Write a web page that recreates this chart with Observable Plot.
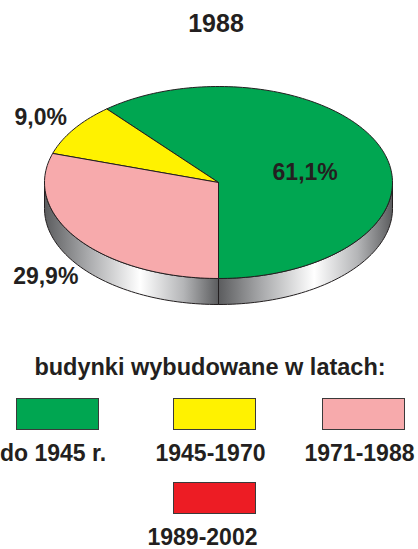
<!DOCTYPE html>
<html><head><meta charset="utf-8">
<script src="https://cdn.jsdelivr.net/npm/d3@7"></script>
<script src="https://cdn.jsdelivr.net/npm/@observablehq/plot@0.6"></script>
<style>
body{margin:0;background:#fff;width:418px;height:549px;position:relative;overflow:hidden;font-family:"Liberation Sans",Arial,Helvetica,sans-serif;font-weight:bold;color:#231f20}
.t{position:absolute;white-space:nowrap;transform:translateX(-50%)}
#chart{position:absolute;left:0;top:45px}
.sw{position:absolute;box-sizing:border-box;border:1px solid #3a3a3a}
</style></head><body>
<div id="chart"></div>
<script>
// ---- data ----
const year = "1988";
const categories = ["do 1945 r.", "1945-1970", "1971-1988", "1989-2002"];
const values = [61.1, 9.0, 29.9, 0.0];
const valueLabels = ["61,1%", "9,0%", "29,9%", "0,0%"];
const colors = ["#00a651", "#fff200", "#f7aaac", "#ed1c24"];
const legendTitle = "budynki wybudowane w latach:";

// ---- geometry (style) ----
const W = 418, H = 280;
const cx = 218, cy = 137, rx = 174, ry = 96, depth = 26;
const rad = Math.PI / 180;
const pt = (a, dy = 0) => ({x: cx + rx * Math.sin(a * rad), y: cy - ry * Math.cos(a * rad) + dy});
function arc(a, b, dy = 0) {
  const n = Math.max(2, Math.ceil(Math.abs(b - a) / 1.5));
  return d3.range(n + 1).map(i => pt(a + (b - a) * i / n, dy));
}

const slices = [];
let a0 = 180;
values.forEach((v, i) => {
  const a1 = a0 - v * 3.6;
  if (v > 0) slices.push({i, a0, a1});
  a0 = a1;
});

const marks = [];
// side walls
slices.forEach(s => {
  const lo0 = Math.min(s.a0, s.a1), hi0 = Math.max(s.a0, s.a1);
  for (const k of [-1, 0, 1]) {
    const lo = Math.max(lo0, 90 + 360 * k), hi = Math.min(hi0, 270 + 360 * k);
    if (hi > lo) {
      const poly = [...arc(lo, hi, 0), ...arc(hi, lo, depth)];
      poly.push(poly[0]);
      marks.push(Plot.line(poly, {x: "x", y: "y", fill: "url(#side)", stroke: "#231f20", strokeWidth: 1, curve: "linear"}));
    }
  }
});
// top faces
slices.forEach(s => {
  const poly = [{x: cx, y: cy}, ...arc(s.a0, s.a1), {x: cx, y: cy}];
  marks.push(Plot.line(poly, {x: "x", y: "y", fill: colors[s.i], stroke: "#231f20", strokeWidth: 1, curve: "linear"}));
});
// value labels
const labelData = slices.map(s => {
  const m = (s.a0 + s.a1) / 2;
  const inside = values[s.i] > 50;
  const kx = inside ? 0.53 : 1.23, ky = inside ? 0.3 : 1.21;
  const sx = Math.sin(m * rad), cyy = Math.cos(m * rad);
  return {x: cx + rx * sx * kx, y: cy - ry * cyy * ky + (!inside && cyy < 0 ? depth : 0), t: valueLabels[s.i]};
});
marks.push(Plot.text(labelData, {x: "x", y: "y", text: "t", fontSize: 23, fontWeight: "bold", fill: "#231f20", fontFamily: "Liberation Sans, Arial, sans-serif"}));

const svg = Plot.plot({
  width: W, height: H, margin: 0,
  x: {type: "linear", domain: [0, W], range: [0, W], axis: null},
  y: {type: "linear", domain: [0, H], range: [0, H], axis: null},
  style: {background: "white", overflow: "visible"},
  marks
});
const ns = "http://www.w3.org/2000/svg";
const defs = document.createElementNS(ns, "defs");
defs.innerHTML = `<linearGradient id="side" x1="0" x2="1" y1="0" y2="0">
  <stop offset="0" stop-color="#5b5c5e"/>
  <stop offset="0.25" stop-color="#a9aaac"/>
  <stop offset="0.55" stop-color="#ffffff"/>
  <stop offset="0.8" stop-color="#b4b5b7"/>
  <stop offset="1" stop-color="#5b5c5e"/>
</linearGradient>`;
svg.insertBefore(defs, svg.firstChild);
document.getElementById("chart").appendChild(svg);

// ---- title & legend (HTML) ----
function place(text, x, baseline, fs) {
  const d = document.createElement("div");
  d.className = "t";
  d.textContent = text;
  d.style.fontSize = fs + "px";
  d.style.lineHeight = fs + "px";
  d.style.left = x + "px";
  d.style.top = (baseline - 0.8465 * fs) + "px";
  document.body.appendChild(d);
}
place(year, 216, 32, 25);
place(legendTitle, 210, 376, 23.5);
const colCenters = [57, 214.5, 363.5];
const rowTops = [398, 482];
const labelShift = [-4, -12];
const swW = 83, swH = 32;
categories.forEach((c, i) => {
  const col = i < 3 ? i : 1, row = i < 3 ? 0 : 1;
  const sx = colCenters[col], sy = rowTops[row];
  const s = document.createElement("div");
  s.className = "sw";
  s.style.left = (sx - swW / 2) + "px";
  s.style.top = sy + "px";
  s.style.width = swW + "px";
  s.style.height = swH + "px";
  s.style.background = colors[i];
  document.body.appendChild(s);
  place(c, sx + labelShift[row], sy + 63, 23);
});
</script>
</body></html>
